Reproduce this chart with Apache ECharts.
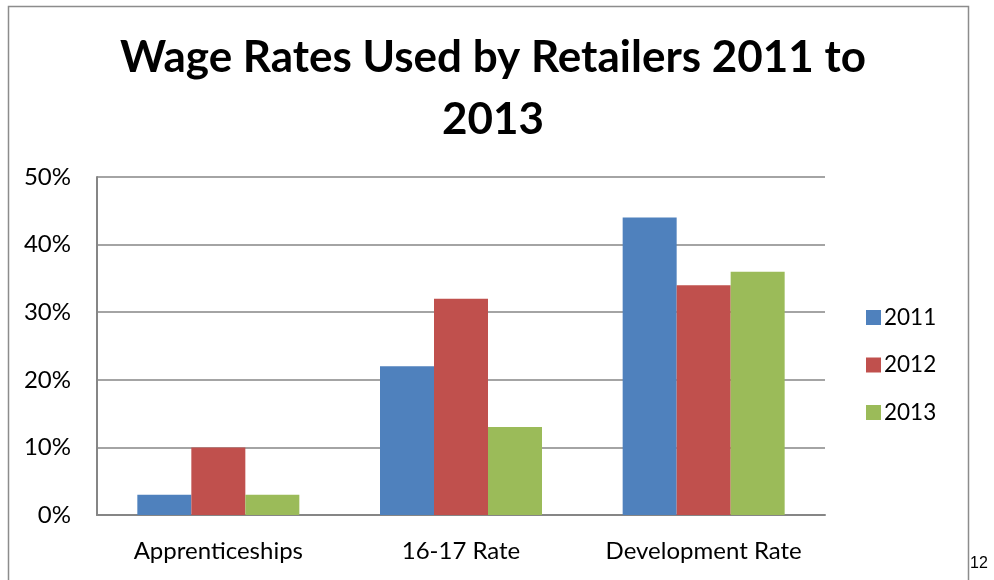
<!DOCTYPE html>
<html><head><meta charset="utf-8">
<script src="https://cdn.jsdelivr.net/npm/echarts@6/dist/echarts.min.js"></script>
<style>html,body{margin:0;padding:0;background:#fff}#c{width:994px;height:580px}</style>
</head><body><div id="c"></div>
<script>
const categories = ["Apprenticeships", "16-17 Rate", "Development Rate"];
const seriesNames = ["2011", "2012", "2013"];
const values2011 = [3, 22, 44];
const values2012 = [10, 32, 34];
const values2013 = [3, 13, 36];
const colors = ["#4F81BD", "#C0504D", "#9BBB59"];
const yTicks = [0, 10, 20, 30, 40, 50];

const font = "Lato, 'Open Sans', sans-serif";
const chart = echarts.init(document.getElementById('c'));
const data = [values2011, values2012, values2013];
chart.setOption({
  animation: false,
  backgroundColor: '#fff',
  title: {
    text: 'Wage Rates Used by Retailers 2011 to\n2013',
    left: 488, top: 22, textAlign: 'center',
    textStyle: { fontFamily: font, fontWeight: 'bold', fontSize: 44, color: '#000', lineHeight: 62 }
  },
  legend: {
    orient: 'vertical', left: 866, top: 304, itemGap: 20.5, padding: 0,
    itemWidth: 15, itemHeight: 15, icon: 'rect',
    textStyle: { fontFamily: font, fontSize: 22.5, color: '#000', lineHeight: 27, padding: [0,0,0,-2] },
    data: seriesNames
  },
  grid: { left: 97, right: 169, top: 177, bottom: 65 },
  xAxis: {
    type: 'category', data: categories,
    axisLine: { lineStyle: { color: '#868686', width: 2 } },
    axisTick: { show: false },
    axisLabel: { fontFamily: font, fontSize: 24, color: '#000', margin: 24, interval: 0 }
  },
  yAxis: {
    type: 'value', min: yTicks[0], max: yTicks[yTicks.length-1], interval: 10,
    axisLine: { show: true, lineStyle: { color: '#868686', width: 2 } },
    axisTick: { show: false },
    splitLine: { lineStyle: { color: '#868686', width: 1.5 } },
    axisLabel: { fontFamily: font, fontSize: 24, color: '#000', margin: 26, formatter: v => v + '%' }
  },
  series: seriesNames.map((n, i) => ({
    name: n, type: 'bar', data: data[i], barWidth: 54, barGap: '0%',
    itemStyle: { color: colors[i] }
  })),
  graphic: [
    { type: 'rect', shape: { x: 8.5, y: 6.5, width: 960, height: 600 }, style: { fill: 'none', stroke: '#8c8c8c', lineWidth: 1.5 }, z: -1 },
    { type: 'text', left: 970, top: 556, style: { text: '12', fontFamily: 'Liberation Sans, Arial, sans-serif', fontSize: 16, fill: '#000' } }
  ]
});
</script></body></html>
